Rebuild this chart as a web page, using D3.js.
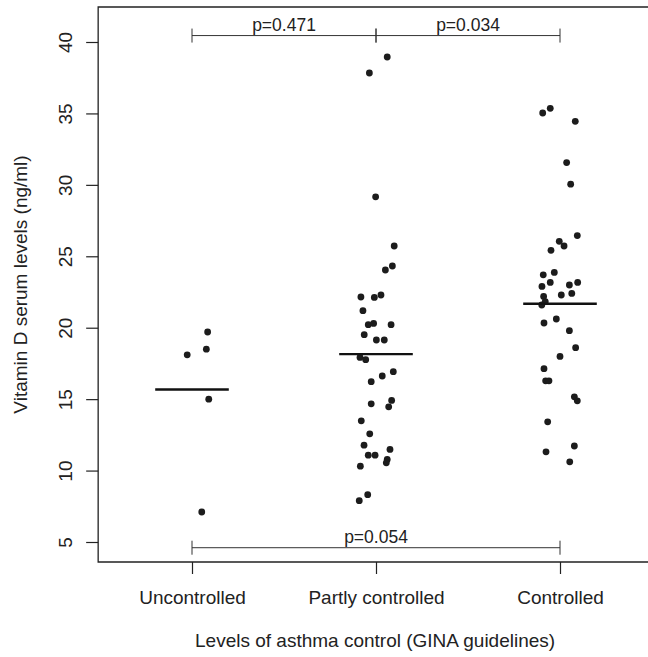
<!DOCTYPE html>
<html>
<head>
<meta charset="utf-8">
<script src="https://cdn.jsdelivr.net/npm/d3@7"></script>
<style>
body { margin: 0; background: #fff; }
text { font-family: "Liberation Sans", Arial, sans-serif; fill: #222; }
</style>
</head>
<body>
<svg id="chart" width="648" height="657"></svg>
<script>
const groups = ["Uncontrolled", "Partly controlled", "Controlled"];

// vitamin D values per group, with the horizontal jitter (category units) seen in the picture
const uncontrolled = [19.7, 18.5, 18.1, 15.0, 7.1];
const uncontrolledJitter = [0.085, 0.078, -0.026, 0.091, 0.053];

const partly = [38.95, 37.83, 29.16, 25.72, 24.32, 24.04, 22.15, 22.12, 22.29, 21.19,
  20.21, 20.30, 20.21, 19.51, 19.14, 19.14, 17.92, 17.76, 16.92, 16.62,
  16.22, 14.91, 14.46, 14.67, 13.48, 12.57, 11.78, 11.48, 11.08, 11.08,
  10.78, 10.54, 10.31, 8.31, 7.89];
const partlyJitter = [0.061, -0.036, -0.002, 0.099, 0.089, 0.051, -0.082, -0.009, 0.027, -0.071,
  -0.042, -0.013, 0.082, -0.064, 0.002, 0.045, -0.087, -0.056, 0.094, 0.034,
  -0.026, 0.085, 0.069, -0.026, -0.080, -0.034, -0.065, 0.076, -0.042, -0.005,
  0.061, 0.056, -0.085, -0.045, -0.091];

const controlled = [35.03, 35.36, 34.45, 31.56, 30.05, 26.45, 26.05, 25.72, 25.42, 23.87,
  23.70, 23.17, 23.17, 22.99, 22.89, 22.19, 22.29, 22.40, 21.82, 21.59,
  20.61, 20.33, 19.79, 18.60, 17.99, 17.13, 16.28, 16.28, 15.16, 14.88,
  13.41, 11.72, 11.31, 10.61];
const controlledJitter = [-0.094, -0.053, 0.083, 0.036, 0.058, 0.094, -0.004, 0.022, -0.049, -0.031,
  -0.091, -0.053, 0.096, 0.051, -0.098, -0.089, 0.007, 0.064, -0.080, -0.099,
  -0.020, -0.087, 0.051, 0.085, 0.000, -0.087, -0.078, -0.060, 0.078, 0.094,
  -0.067, 0.078, -0.076, 0.053];

const medians = [15.68, 18.15, 21.68];

const yTicks = [5, 10, 15, 20, 25, 30, 35, 40];

// comparison brackets
const pLabels = ["p=0.471", "p=0.034", "p=0.054"];
const pFrom = [1, 2, 1];
const pTo = [2, 3, 3];
const pLevel = [40.45, 40.45, 4.6];

const svg = d3.select("#chart");

const x = d3.scaleLinear().domain([1, 3]).range([192, 560]);
const y = d3.scaleLinear().domain([5, 40]).range([542, 42]);
const xLim = [0.49, 3.55];
const yLim = [3.6, 42.45];

// plot box (right side falls outside the picture)
svg.append("path")
  .attr("d", "M" + x(xLim[1]) + "," + y(yLim[1]) + "H" + x(xLim[0]) + "V" + y(yLim[0]) + "H" + x(xLim[1]))
  .attr("fill", "none")
  .attr("stroke", "#222")
  .attr("stroke-width", 1.3);

// y axis
const yAxis = svg.append("g")
  .attr("transform", "translate(" + x(xLim[0]) + ",0)")
  .call(d3.axisLeft(y).tickValues(yTicks).tickSize(12));
yAxis.select(".domain").remove();
yAxis.selectAll("line").attr("stroke", "#222").attr("stroke-width", 1.2);
yAxis.selectAll("text")
  .attr("transform", "rotate(-90)")
  .attr("x", 0)
  .attr("y", -26)
  .attr("dy", 0)
  .attr("text-anchor", "middle")
  .style("font-size", "19px")
  .style("font-family", "'Liberation Sans', Arial, sans-serif")
  .attr("fill", "#222");

// x axis
const xAxis = svg.append("g")
  .attr("transform", "translate(0," + y(yLim[0]) + ")")
  .call(d3.axisBottom(x).tickValues([1, 2, 3]).tickFormat(i => groups[i - 1]).tickSize(12));
xAxis.select(".domain").remove();
xAxis.selectAll("line").attr("stroke", "#222").attr("stroke-width", 1.2);
xAxis.selectAll("text")
  .attr("y", 42)
  .attr("dy", 0)
  .style("font-size", "19px")
  .style("font-family", "'Liberation Sans', Arial, sans-serif")
  .attr("fill", "#222");

// axis titles
svg.append("text")
  .attr("x", (x(xLim[0]) + x(3.5)) / 2)
  .attr("y", 647)
  .attr("text-anchor", "middle")
  .style("font-size", "19px")
  .text("Levels of asthma control (GINA guidelines)");

svg.append("text")
  .attr("transform", "translate(27," + (y(yLim[0]) + y(yLim[1])) / 2 + ") rotate(-90)")
  .attr("text-anchor", "middle")
  .style("font-size", "19px")
  .text("Vitamin D serum levels (ng/ml)");

// points
const allValues = [uncontrolled, partly, controlled];
const allJitter = [uncontrolledJitter, partlyJitter, controlledJitter];
for (let g = 0; g < 3; g++)
{
  svg.append("g")
    .selectAll("circle")
    .data(allValues[g])
    .join("circle")
    .attr("cx", (d, i) => x(g + 1 + allJitter[g][i]))
    .attr("cy", d => y(d))
    .attr("r", 3.4)
    .attr("fill", "#1c1c1c");
}

// median lines
svg.append("g")
  .selectAll("line")
  .data(medians)
  .join("line")
  .attr("x1", (d, i) => x(i + 1 - 0.2))
  .attr("x2", (d, i) => x(i + 1 + 0.2))
  .attr("y1", d => y(d))
  .attr("y2", d => y(d))
  .attr("stroke", "#111")
  .attr("stroke-width", 2.4);

// p-value brackets
for (let i = 0; i < pLabels.length; i++)
{
  const b = svg.append("g").attr("stroke", "#333").attr("stroke-width", 1);
  const yy = y(pLevel[i]);
  b.append("line").attr("x1", x(pFrom[i])).attr("x2", x(pTo[i])).attr("y1", yy).attr("y2", yy);
  b.append("line").attr("x1", x(pFrom[i])).attr("x2", x(pFrom[i])).attr("y1", yy - 7).attr("y2", yy + 7);
  b.append("line").attr("x1", x(pTo[i])).attr("x2", x(pTo[i])).attr("y1", yy - 7).attr("y2", yy + 7);
  svg.append("text")
    .attr("x", (x(pFrom[i]) + x(pTo[i])) / 2)
    .attr("y", yy - 5)
    .attr("text-anchor", "middle")
    .style("font-size", "17.5px")
    .text(pLabels[i]);
}
</script>
</body>
</html>
